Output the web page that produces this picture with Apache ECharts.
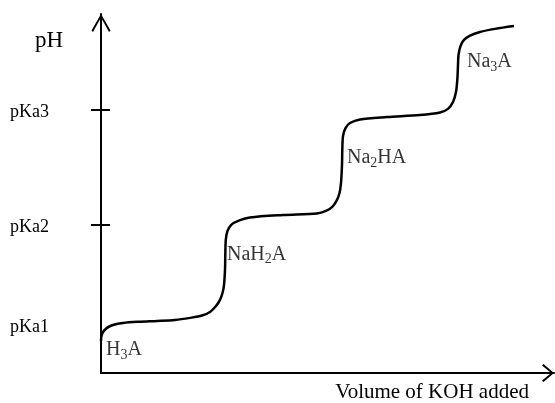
<!DOCTYPE html>
<html>
<head>
<meta charset="utf-8">
<script src="https://cdn.jsdelivr.net/npm/echarts@6/dist/echarts.min.js"></script>
<style>
  html, body { margin: 0; padding: 0; background: #fff; }
  #chart { width: 555px; height: 403px; }
</style>
</head>
<body>
<div id="chart"></div>
<script>
// Titration curve of a triprotic acid H3A with KOH (schematic)
const volumeAdded = [
  0, 0.05, 0.2, 0.6, 1.2, 2.2, 3.9, 5.6, 7.4, 8.9, 10.1, 10.9, 11.5, 11.9, 12.15, 12.3,
  12.4, 12.43, 12.48, 12.65, 13.0, 13.6, 14.9, 18.2, 21.6, 22.5, 23.1, 23.55, 23.85, 24.0,
  24.1, 24.13, 24.2, 24.45, 24.9, 25.9, 28.6, 31.9, 33.9, 34.7, 35.2, 35.5, 35.63, 35.7,
  35.75, 35.95, 36.3, 36.9, 37.9, 39.4, 41.3
];
const phValues = [
  1.25, 1.44, 1.60, 1.76, 1.87, 1.95, 2.00, 2.03, 2.07, 2.15, 2.24, 2.38, 2.61, 2.85, 3.12, 3.43,
  4.02, 4.60, 5.19, 5.54, 5.77, 5.91, 6.06, 6.16, 6.22, 6.32, 6.47, 6.71, 7.02, 7.41,
  8.11, 8.70, 9.24, 9.55, 9.75, 9.89, 9.98, 10.06, 10.16, 10.30, 10.57, 10.96, 11.43, 12.01,
  12.40, 12.75, 12.99, 13.16, 13.30, 13.42, 13.53
];

// pKa levels on the pH axis
const pkaValues = [1.89, 5.80, 10.28];
const pkaLabels = ['pKa1', 'pKa2', 'pKa3'];
const pkaTickValues = [5.80, 10.28];

// Species present along the curve
const speciesNames = ['H3A', 'NaH2A', 'Na2HA', 'Na3A'];
const speciesVolume = [0.5, 12.6, 24.6, 36.6];
const speciesPh = [0.86, 4.58, 8.34, 12.09];

const VOLUME_MAX = 45.3;
const PH_MAX = 14;

const FONT = '"Liberation Serif", "Times New Roman", serif';
const INK = '#000';

// open chevron arrow heads (tip pointing up before axis rotation)
const arrowX = 'path://M90 0 L180 105 L165 120 L90 28 L15 120 L0 105 Z';
const arrowY = 'path://M95 0 L190 165 L175 180 L95 34 L15 180 L0 165 Z';

const curve = volumeAdded.map((v, i) => [v, phValues[i]]);
const speciesPoints = speciesNames.map((n, i) => [speciesVolume[i], speciesPh[i], n]);

function richName(name) {
  return '{t|' + name.replace(/(\d)/g, '}{s|$1}{t|') + '}';
}

const chart = echarts.init(document.getElementById('chart'), null, { renderer: 'canvas' });

chart.setOption({
  animation: false,
  backgroundColor: '#fff',
  grid: { left: 101, right: 1, top: 14, bottom: 30, containLabel: false, outerBoundsMode: 'none' },
  xAxis: {
    type: 'value',
    min: 0,
    max: VOLUME_MAX,
    name: 'Volume of KOH added',
    nameLocation: 'end',
    nameGap: -25,
    nameTextStyle: {
      fontFamily: FONT, fontSize: 21, color: INK,
      align: 'right', verticalAlign: 'top', lineHeight: 38
    },
    axisLine: {
      show: true,
      lineStyle: { color: INK, width: 2 },
      symbol: ['none', arrowX],
      symbolSize: [18, 12],
      symbolOffset: [0, -6]
    },
    axisTick: { show: false },
    axisLabel: { show: false },
    splitLine: { show: false }
  },
  yAxis: [
    {
      type: 'value',
      position: 'left',
      min: 0,
      max: PH_MAX,
      name: 'pH',
      nameLocation: 'end',
      nameGap: -15,
      nameTextStyle: {
        fontFamily: FONT, fontSize: 23, color: INK,
        align: 'right', verticalAlign: 'top', padding: [0, 38, 0, 0]
      },
      axisLine: {
        show: true,
        onZero: false,
        lineStyle: { color: INK, width: 2 },
        symbol: ['none', arrowY],
        symbolSize: [19, 18],
        symbolOffset: [0, -9]
      },
      axisTick: {
        show: true,
        inside: false,
        length: 10,
        customValues: pkaTickValues,
        lineStyle: { color: INK, width: 2 }
      },
      axisLabel: {
        show: true,
        customValues: pkaValues,
        formatter: function (value) {
          const i = pkaValues.indexOf(value);
          return i >= 0 ? pkaLabels[i] : '';
        },
        margin: 52,
        fontFamily: FONT,
        fontSize: 18,
        color: INK,
        verticalAlign: 'top',
        lineHeight: 6
      },
      splitLine: { show: false }
    },
    {
      // inner half of the pKa tick marks
      type: 'value',
      position: 'left',
      min: 0,
      max: PH_MAX,
      axisLine: { show: false, onZero: false },
      axisTick: {
        show: true,
        inside: true,
        length: 9,
        customValues: pkaTickValues,
        lineStyle: { color: INK, width: 2 }
      },
      axisLabel: { show: false },
      splitLine: { show: false }
    }
  ],
  series: [
    {
      type: 'line',
      data: curve,
      smooth: 0.3,
      showSymbol: false,
      symbol: 'none',
      clip: false,
      lineStyle: { color: INK, width: 2.5 },
      silent: true
    },
    {
      type: 'scatter',
      data: speciesPoints,
      symbolSize: 0,
      silent: true,
      clip: false,
      label: {
        show: true,
        position: 'right',
        distance: 0,
        formatter: function (p) { return richName(p.data[2]); },
        rich: {
          t: { fontFamily: FONT, fontSize: 20, color: INK, verticalAlign: 'bottom', padding: [0, 0, 2, 0] },
          s: { fontFamily: FONT, fontSize: 14, color: INK, verticalAlign: 'bottom' }
        }
      }
    }
  ]
});
</script>
</body>
</html>
